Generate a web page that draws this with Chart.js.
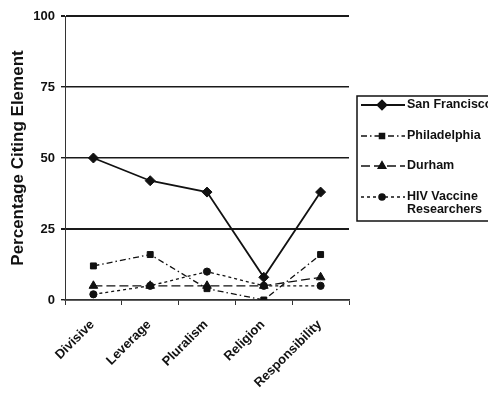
<!DOCTYPE html>
<html>
<head>
<meta charset="utf-8">
<script src="https://cdn.jsdelivr.net/npm/chart.js@4"></script>
<style>
  body { margin: 0; background: #fff; }
  #wrap { width: 488px; height: 402px; }
</style>
</head>
<body>
<div id="wrap"><canvas id="myChart" width="488" height="402"></canvas></div>
<script>
var categories = ['Divisive', 'Leverage', 'Pluralism', 'Religion', 'Responsibility'];
var sanFrancisco = [50, 42, 38, 8, 38];
var philadelphia = [12, 16, 4, 0, 16];
var durham = [5, 5, 5, 5, 8];
var hivResearchers = [2, 5, 10, 5, 5];
var seriesNames = ['San Francisco', 'Philadelphia', 'Durham', 'HIV Vaccine Researchers'];
var legendLines = [['San Francisco'], ['Philadelphia'], ['Durham'], ['HIV Vaccine', 'Researchers']];
var yTicks = [0, 25, 50, 75, 100];

var ctx = document.getElementById('myChart').getContext('2d');
var boldFont = "'Liberation Sans', Arial, sans-serif";

function makeSet(label, data, dash, style, radius, width) {
    return {
        label: label,
        data: data,
        borderColor: '#111',
        backgroundColor: '#111',
        borderWidth: width,
        borderDash: dash,
        pointStyle: style,
        pointRadius: radius,
        pointHoverRadius: radius,
        pointBorderWidth: 1,
        tension: 0,
        fill: false
    };
}

// legend drawn by hand: line sample + marker + bold text in a box
var boxLegend = {
    id: 'boxLegend',
    afterDraw: function (chart) {
        var c = chart.ctx;
        var x0 = 357, y0 = 96;
        c.save();
        c.strokeStyle = '#111';
        c.lineWidth = 1.5;
        c.strokeRect(x0, y0, 140, 125);
        var rows = [105, 136, 166, 197];
        chart.data.datasets.forEach(function (ds, i) {
            var y = rows[i];
            c.strokeStyle = '#111';
            c.lineWidth = ds.borderWidth;
            c.setLineDash(ds.borderDash);
            c.beginPath();
            c.moveTo(361, y);
            c.lineTo(405, y);
            c.stroke();
            c.setLineDash([]);
            Chart.helpers.drawPoint(c, {
                pointStyle: ds.pointStyle,
                radius: ds.pointRadius - 0.5,
                borderWidth: 1,
                rotation: 0
            }, 382, y);
            c.fillStyle = '#111';
            c.fill();
            c.font = 'bold 12.5px ' + boldFont;
            c.textAlign = 'left';
            c.textBaseline = 'middle';
            legendLines[i].forEach(function (t, k) {
                c.fillText(t, 407, y + k * 13);
            });
        });
        c.restore();
    }
};

new Chart(ctx, {
    type: 'line',
    data: {
        labels: categories,
        datasets: [
            makeSet(seriesNames[0], sanFrancisco, [], 'rectRot', 5, 1.8),
            makeSet(seriesNames[1], philadelphia, [6, 3, 1.5, 3], 'rect', 4.2, 1.3),
            makeSet(seriesNames[2], durham, [9, 4], 'triangle', 5, 1.3),
            makeSet(seriesNames[3], hivResearchers, [3, 3], 'circle', 3.6, 1.3)
        ]
    },
    options: {
        responsive: false,
        animation: false,
        layout: { padding: { left: 0, right: 139, top: 16, bottom: 0 } },
        plugins: {
            legend: { display: false },
            tooltip: { enabled: false }
        },
        scales: {
            x: {
                offset: true,
                afterFit: function (s) { s.height = 102; },
                grid: {
                    offset: true,
                    drawOnChartArea: false,
                    drawTicks: true,
                    tickLength: 5,
                    color: '#333',
                    lineWidth: 1
                },
                border: { display: true, color: '#333', width: 1.5 },
                ticks: {
                    minRotation: 45,
                    maxRotation: 45,
                    padding: 12,
                    labelOffset: -1,
                    color: '#111',
                    font: { family: boldFont, size: 13, weight: 'bold' }
                }
            },
            y: {
                min: 0,
                max: 100,
                afterFit: function (s) { s.width = 65; },
                afterBuildTicks: function (s) {
                    s.ticks = yTicks.map(function (v) { return { value: v }; });
                },
                grid: {
                    drawTicks: true,
                    tickLength: 4,
                    color: '#1a1a1a',
                    lineWidth: function (c) {
                        return (c.tick && (c.tick.value === 25 || c.tick.value === 100)) ? 2 : 1.4;
                    }
                },
                border: { display: true, color: '#333', width: 1 },
                ticks: {
                    padding: 6,
                    color: '#111',
                    font: { family: boldFont, size: 13, weight: 'bold' }
                },
                title: {
                    display: true,
                    text: 'Percentage Citing Element',
                    color: '#111',
                    padding: { top: 8, bottom: 4 },
                    font: { family: boldFont, size: 17, weight: 'bold' }
                }
            }
        }
    },
    plugins: [boxLegend]
});
</script>
</body>
</html>
